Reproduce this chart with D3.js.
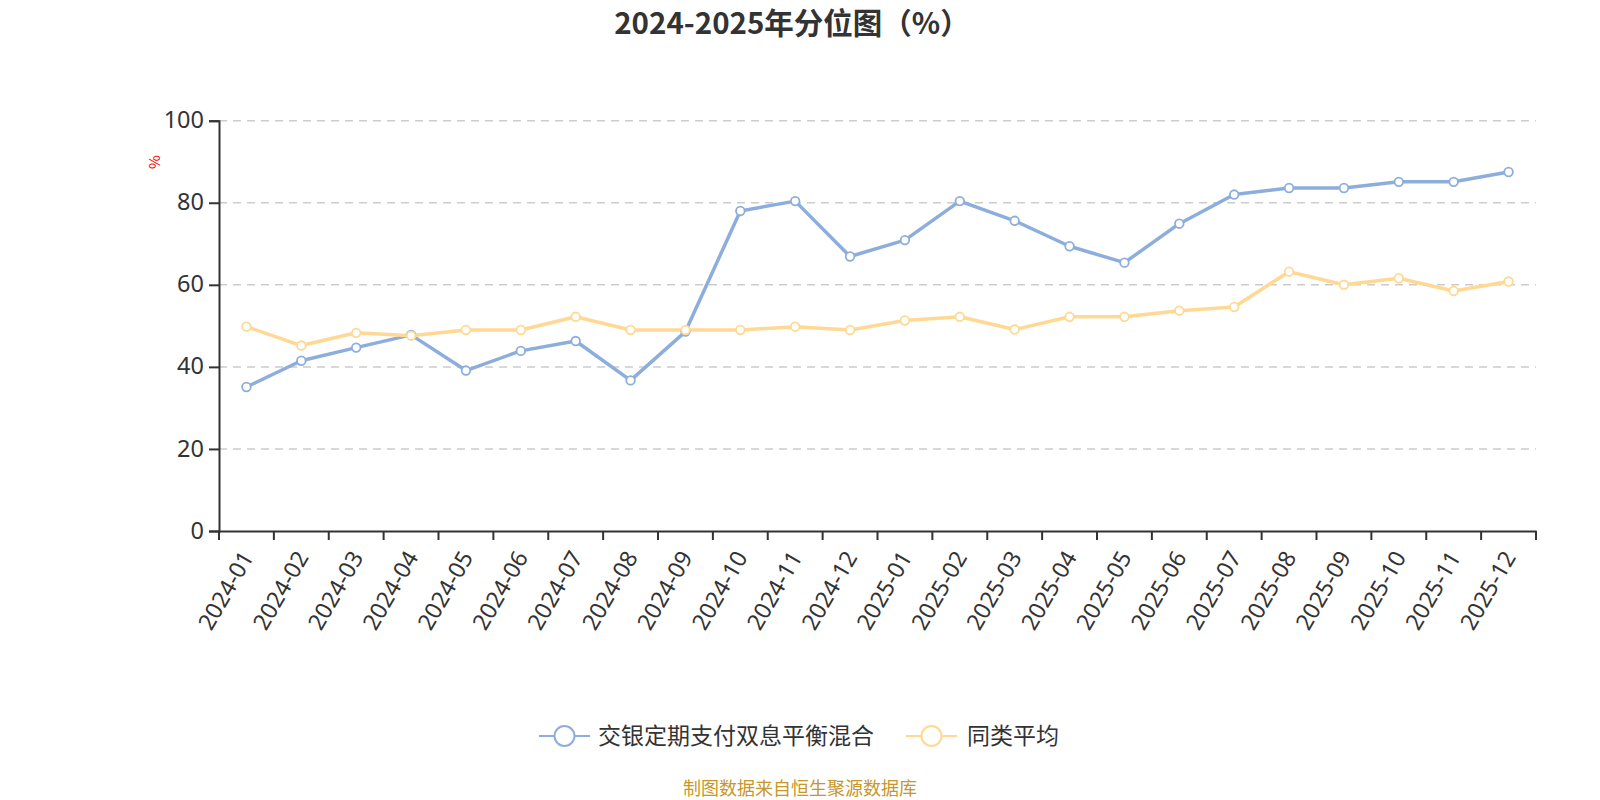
<!DOCTYPE html>
<html>
<head>
<meta charset="utf-8">
<script src="https://cdn.jsdelivr.net/npm/d3@7"></script>
<style>
  body { margin: 0; background: #fff; }
  svg { display: block; font-family: "Noto Sans CJK SC", "Noto Sans", sans-serif; }
</style>
</head>
<body>
<svg id="chart" width="1600" height="800"></svg>
<script>
const categories = ["2024-01","2024-02","2024-03","2024-04","2024-05","2024-06","2024-07","2024-08","2024-09","2024-10","2024-11","2024-12",
                    "2025-01","2025-02","2025-03","2025-04","2025-05","2025-06","2025-07","2025-08","2025-09","2025-10","2025-11","2025-12"];
const fundValues = [35.1, 41.5, 44.7, 47.8, 39.1, 43.9, 46.3, 36.7, 48.6, 78.0, 80.4, 66.9,
                    70.9, 80.4, 75.6, 69.4, 65.4, 74.9, 82.0, 83.6, 83.6, 85.1, 85.1, 87.5];
const avgValues  = [49.8, 45.2, 48.3, 47.6, 49.0, 49.0, 52.2, 49.0, 49.0, 49.0, 49.8, 49.0,
                    51.3, 52.2, 49.1, 52.2, 52.2, 53.7, 54.6, 63.2, 60.0, 61.6, 58.5, 60.8];
const yTicks = [0, 20, 40, 60, 80, 100];
const seriesNames = ["交银定期支付双息平衡混合", "同类平均"];
const colors = ["#8daedc", "#ffd993"];
const titleText = "2024-2025年分位图（%）";
const yUnit = "%";
const footerText = "制图数据来自恒生聚源数据库";

const svg = d3.select("#chart");
const pLeft = 219, pRight = 1536, pTop = 120.7, pBottom = 531;
const numFont = "\"Noto Sans\", \"Open Sans\", sans-serif";

const x = d3.scaleBand().domain(categories).range([pLeft, pRight]).paddingInner(0).paddingOuter(0);
const y = d3.scaleLinear().domain([0, 100]).range([pBottom, pTop]);

// title
svg.append("text").attr("x", 792).attr("y", 34).attr("text-anchor", "middle")
  .attr("font-size", 29.5).attr("font-weight", "bold").attr("fill", "#333").text(titleText);

// grid
svg.append("g").selectAll("line").data(yTicks.filter(d => d > 0)).join("line")
  .attr("x1", pLeft).attr("x2", pRight).attr("y1", d => y(d)).attr("y2", d => y(d))
  .attr("stroke", "#ccc").attr("stroke-width", 1.5).attr("stroke-dasharray", "8,6");

// y axis
const yAxis = svg.append("g").attr("transform", `translate(${pLeft},0)`)
  .call(d3.axisLeft(y).tickValues(yTicks).tickSize(10).tickPadding(5));
yAxis.select(".domain").attr("stroke", "#333").attr("stroke-width", 2);
yAxis.selectAll(".tick line").attr("stroke", "#333").attr("stroke-width", 2);
yAxis.selectAll(".tick text").attr("font-size", 23.5).attr("fill", "#333")
  .attr("font-family", numFont).attr("dy", "0.3em");

// y unit
svg.append("text").attr("transform", "translate(160,162) rotate(-90)")
  .attr("text-anchor", "middle").attr("font-size", 15).attr("fill", "red").text(yUnit);

// x axis
const xAxis = svg.append("g").attr("transform", `translate(0,${pBottom})`)
  .call(d3.axisBottom(x).tickSize(0).tickFormat(""));
xAxis.select(".domain").attr("stroke", "#333").attr("stroke-width", 2);
// tick marks at band boundaries
const bounds = categories.map(c => x(c)).concat([x(categories[categories.length - 1]) + x.bandwidth()]);
svg.append("g").selectAll("line").data(bounds).join("line")
  .attr("x1", d => d).attr("x2", d => d).attr("y1", pBottom).attr("y2", pBottom + 9)
  .attr("stroke", "#333").attr("stroke-width", 2);
// labels
svg.append("g").selectAll("text").data(categories).join("text")
  .attr("transform", d => `translate(${x(d) + x.bandwidth() / 2 + 1},${pBottom + 22}) rotate(-60)`)
  .attr("text-anchor", "end").attr("dy", "0.35em")
  .attr("font-family", numFont)
  .attr("font-size", 23).attr("fill", "#333").text(d => d);

// lines
const series = [fundValues, avgValues];
const line = d3.line().x((d, i) => x(categories[i]) + x.bandwidth() / 2).y(d => y(d));
series.forEach((vals, si) => {
  svg.append("path").datum(vals).attr("d", line).attr("fill", "none")
    .attr("stroke", colors[si]).attr("stroke-width", 3.5).attr("stroke-linejoin", "round");
});
series.forEach((vals, si) => {
  svg.append("g").selectAll("circle").data(vals).join("circle")
    .attr("cx", (d, i) => x(categories[i]) + x.bandwidth() / 2).attr("cy", d => y(d))
    .attr("r", 4.3).attr("fill", "#fff").attr("stroke", colors[si]).attr("stroke-width", 1.8);
});

// legend
const legendItems = [{x: 539, tx: 598}, {x: 906, tx: 967}];
legendItems.forEach((it, i) => {
  const g = svg.append("g");
  g.append("line").attr("x1", it.x).attr("x2", it.x + 51).attr("y1", 736).attr("y2", 736)
    .attr("stroke", colors[i]).attr("stroke-width", 2);
  g.append("circle").attr("cx", it.x + 25.5).attr("cy", 736).attr("r", 10)
    .attr("fill", "#fff").attr("stroke", colors[i]).attr("stroke-width", 2);
  g.append("text").attr("x", it.tx).attr("y", 736).attr("dy", "0.36em")
    .attr("font-size", 23).attr("fill", "#333").text(seriesNames[i]);
});

// footer
svg.append("text").attr("x", 800).attr("y", 789).attr("text-anchor", "middle").attr("dy", "0.36em")
  .attr("font-size", 18).attr("fill", "#c8962a").text(footerText);
</script>
</body>
</html>
